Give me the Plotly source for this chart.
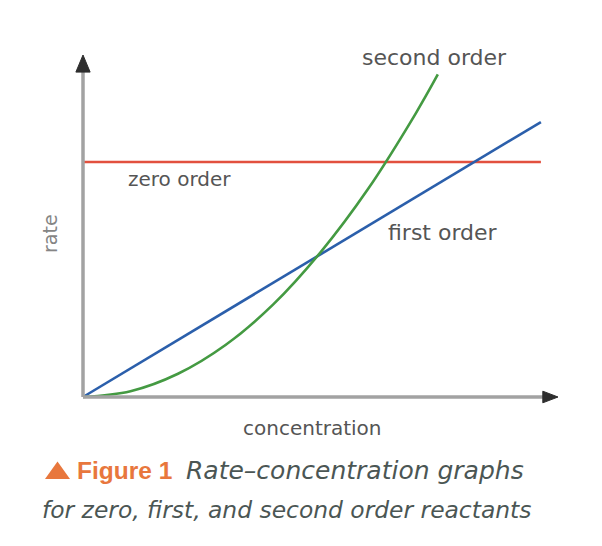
import plotly.graph_objects as go

# data (concentration, rate), axes 0-10 arbitrary units
zero_conc = [0, 9.64]
zero_rate = [6.87, 6.87]

first_conc = [0, 9.64]
first_rate = [0, 8.04]

second_conc = [0, 1, 2, 3, 4, 5, 6, 7, 7.47]
second_rate = [0, 0.17, 0.68, 1.52, 2.70, 4.23, 6.08, 8.28, 9.43]

series_names = ["zero order", "first order", "second order"]
x_title = "concentration"
y_title = "rate"

# ---- layout geometry (the page body adds an 8px offset) ----
OFF = 8
W, H = 602 - OFF, 546 - OFF
L, R, T, B = 56, 35, 40, 135
ORIGIN_X, ORIGIN_Y = 83, 397          # page pixels of data (0,0)
UX, UY = 47.5, 34.2                   # pixels per data unit
x_min = -((ORIGIN_X - OFF) - L) / UX
x_max = x_min + (W - L - R) / UX
y_min = -((H - B) - (ORIGIN_Y - OFF)) / UY
y_max = y_min + (H - T - B) / UY

pw, ph = W - L - R, H - T - B
def px(xp):  # page pixel -> paper x
    return (xp - OFF - L) / pw
def py(yp):  # page pixel -> paper y
    return ((H - B) - (yp - OFF)) / ph

fig = go.Figure()
fig.add_trace(go.Scatter(x=zero_conc, y=zero_rate, mode="lines",
                         line=dict(color="#e2503e", width=2.6), name=series_names[0]))
fig.add_trace(go.Scatter(x=first_conc, y=first_rate, mode="lines",
                         line=dict(color="#2b5fab", width=2.6), name=series_names[1]))
fig.add_trace(go.Scatter(x=second_conc, y=second_rate, mode="lines", line_shape="spline",
                         line=dict(color="#449a42", width=2.6), name=series_names[2]))

axis_grey = "#a2a2a2"
head = "#2e2e2e"
fig.add_shape(type="line", xref="x", yref="y", x0=0, y0=0, x1=0, y1=9.5,
              line=dict(color=axis_grey, width=3.5))
fig.add_shape(type="line", xref="x", yref="y", x0=0, y0=0, x1=9.7, y1=0,
              line=dict(color=axis_grey, width=3.5))
fig.add_shape(type="path", xref="x", yref="y",
              path="M -0.15 9.5 L 0 10 L 0.15 9.5 Z",
              fillcolor=head, line=dict(color=head, width=1))
fig.add_shape(type="path", xref="x", yref="y",
              path="M 9.68 -0.17 L 10 0 L 9.68 0.17 Z",
              fillcolor=head, line=dict(color=head, width=1))

txt = "#555555"
lab_font = "DejaVu Sans"
fig.add_annotation(x=2.04, y=6.37, xref="x", yref="y", text=series_names[0], showarrow=False,
                   xanchor="center", yanchor="middle",
                   font=dict(family=lab_font, size=20, color=txt))
fig.add_annotation(x=7.57, y=4.82, xref="x", yref="y", text=series_names[1], showarrow=False,
                   xanchor="center", yanchor="middle",
                   font=dict(family=lab_font, size=22, color=txt))
fig.add_annotation(x=7.41, y=9.94, xref="x", yref="y", text=series_names[2], showarrow=False,
                   xanchor="center", yanchor="middle",
                   font=dict(family=lab_font, size=22, color=txt))

fig.add_annotation(x=px(312.5), y=py(428), xref="paper", yref="paper", text=x_title, showarrow=False,
                   xanchor="center", yanchor="middle",
                   font=dict(family=lab_font, size=20, color=txt))
fig.add_annotation(x=px(50), y=py(234), xref="paper", yref="paper", text=y_title, showarrow=False,
                   xanchor="center", yanchor="middle",
                   textangle=-90, font=dict(family=lab_font, size=19, color="#858585"))

# caption
orange = "#e8773d"
cap_col = "#4b5654"
fig.add_shape(type="path", xref="paper", yref="paper",
              path=f"M {px(45)} {py(479)} L {px(70)} {py(479)} L {px(57.5)} {py(461.5)} Z",
              fillcolor=orange, line=dict(color=orange, width=0))
fig.add_annotation(x=px(75), y=py(470.5), xref="paper", yref="paper", showarrow=False,
                   xanchor="left", yanchor="middle", text="<b>Figure 1</b>",
                   font=dict(family="Liberation Sans", size=24.5, color=orange))
fig.add_annotation(x=px(184), y=py(470.5), xref="paper", yref="paper", showarrow=False,
                   xanchor="left", yanchor="middle", text="<i>Rate–concentration graphs</i>",
                   font=dict(family="DejaVu Sans", size=25, color=cap_col))
fig.add_annotation(x=px(40), y=py(510), xref="paper", yref="paper", showarrow=False,
                   xanchor="left", yanchor="middle",
                   text="<i>for zero, first, and second order reactants</i>",
                   font=dict(family="DejaVu Sans", size=23.4, color=cap_col))

fig.update_layout(
    width=W, height=H,
    margin=dict(l=L, r=R, t=T, b=B, pad=0),
    paper_bgcolor="white", plot_bgcolor="white",
    showlegend=False,
    xaxis=dict(range=[x_min, x_max], visible=False, fixedrange=True),
    yaxis=dict(range=[y_min, y_max], visible=False, fixedrange=True),
)

fig.write_html("out.html")
